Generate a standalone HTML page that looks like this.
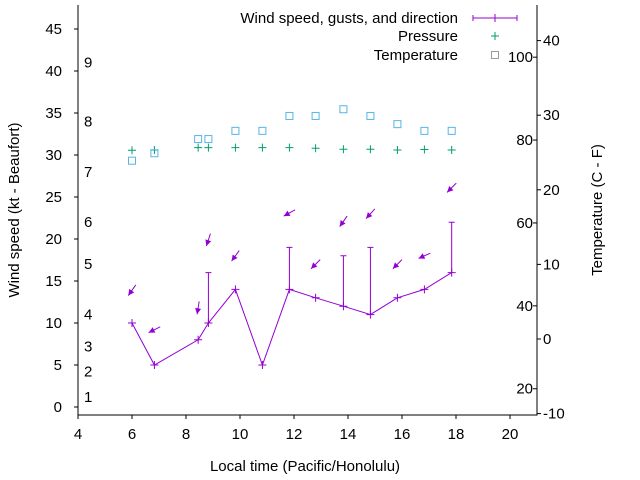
<!DOCTYPE html>
<html><head><meta charset="utf-8"><style>
html,body{margin:0;padding:0;background:#fff}
svg{display:block;font-family:"Liberation Sans",sans-serif}
</style></head><body>
<svg id="chart" width="640" height="480" viewBox="0 0 640 480"></svg>
<script>
// Data arrays
const times = [6.0, 6.83, 8.45, 8.83, 9.83, 10.83, 11.83, 12.8, 13.83, 14.83, 15.83, 16.83, 17.84];
const windSpeed = [10, 5, 8, 10, 14, 5, 14, 13, 12, 11, 13, 14, 16];
const gusts = [null, null, null, 16, null, null, 19, null, 18, 19, null, null, 22];
const arrowLevel = [13.9, 9.2, 11.8, 19.9, 18, 23.1, 17, 22.1, 23, 17, 18, 26.1];
const arrowTimes = [6.0, 6.83, 8.45, 8.83, 9.83, 11.83, 12.8, 13.83, 14.83, 15.83, 16.83, 17.84];
const windDir = [35, 63, 9, 18, 36, 61, 45, 35, 42, 45, 66, 45];
const pressure = [30.56, 30.6, 30.88, 30.88, 30.88, 30.88, 30.88, 30.8, 30.68, 30.68, 30.6, 30.65, 30.6];
const tempC = [23.9, 24.9, 26.8, 26.8, 27.9, 27.9, 29.9, 29.9, 30.8, 29.9, 28.8, 27.9, 27.9];
const xTicks = [4, 6, 8, 10, 12, 14, 16, 18, 20];
const yTicks = [0, 5, 10, 15, 20, 25, 30, 35, 40, 45];
const y2Ticks = [-10, 0, 10, 20, 30, 40];
const fahrLabels = [20, 40, 60, 80, 100];
const beaufortLabels = [1, 2, 3, 4, 5, 6, 7, 8, 9];
const beaufortLevel = [1.2, 4.2, 7.2, 11, 17, 22, 28, 34, 41];

const L = 78, R = 537, T = 5, B = 415;
const X = v => L + (v - 4) * (R - L) / 17;
const Y = v => 407 - v * 8.4;
const Y2 = c => 339 - c * 7.46;
const NS = "http://www.w3.org/2000/svg";
const svg = document.getElementById('chart');
function mk(tag, attrs, parent) {
  const e = document.createElementNS(NS, tag);
  for (const k in attrs) e.setAttribute(k, attrs[k]);
  (parent || svg).appendChild(e);
  return e;
}
const purple = '#9400d3', green = '#009e73', blue = '#56b4e9';

// axes
const axes = mk('g', {});


mk('path', {d: `M${L},${T}V${B}H${R}V${T}`, fill: 'none', stroke: '#000', 'stroke-width': 1}, axes);

xTicks.forEach(t => {
  const x = X(t);
  mk('line', {x1: x, x2: x, y1: B, y2: B + 4, stroke: '#000'}, axes);
  const tx = mk('text', {x: x, y: B + 24, 'text-anchor': 'middle', 'font-size': 15}, axes);
  tx.textContent = t;
  
  
});
yTicks.forEach(t => {
  const y = Y(t);
  mk('line', {x1: L, x2: L - 4, y1: y, y2: y, stroke: '#000'}, axes);
  const tx = mk('text', {x: 62, y: y + 5, 'text-anchor': 'end', 'font-size': 15}, axes);
  tx.textContent = t;
  
  
});
y2Ticks.forEach(t => {
  const y = Y2(t);
  mk('line', {x1: R, x2: R + 4, y1: y, y2: y, stroke: '#000'}, axes);
  const tx = mk('text', {x: 543, y: y + 5, 'font-size': 15}, axes);
  tx.textContent = t;
  
  
});
fahrLabels.forEach(f => {
  const y = Y2((f - 32) * 5 / 9);
  mk('line', {x1: R, x2: R - 4, y1: y, y2: y, stroke: '#000'}, axes);
  const tx = mk('text', {x: 533, y: y + 5, 'text-anchor': 'end', 'font-size': 15}, axes);
  tx.textContent = f;
  
  
});
beaufortLabels.forEach((b, i) => {
  const tx = mk('text', {x: 84, y: Y(beaufortLevel[i]) + 5, 'font-size': 15}, axes);
  tx.textContent = b;
  
  
});

// titles
let t1 = mk('text', {x: 305, y: 471, 'text-anchor': 'middle', 'font-size': 15});
t1.textContent = 'Local time (Pacific/Honolulu)';


let t2 = mk('text', {x: 0, y: 0, 'text-anchor': 'middle', 'font-size': 15, transform: 'translate(19,210) rotate(-90)'});
t2.textContent = 'Wind speed (kt - Beaufort)';


let t3 = mk('text', {x: 0, y: 0, 'text-anchor': 'middle', 'font-size': 15, transform: 'translate(602,210) rotate(-90)'});
t3.textContent = 'Temperature (C - F)';



// wind line
const wind = mk('g', {});


mk('polyline', {points: times.map((t, i) => X(t) + ',' + Y(windSpeed[i])).join(' '), fill: 'none', stroke: purple, 'stroke-width': 1}, wind);
times.forEach((t, i) => {
  const x = X(t), y = Y(windSpeed[i]);
  const p = mk('path', {d: `M${x - 4},${y}h8M${x},${y - 4}v8`, stroke: purple}, wind);
  
  
  if (gusts[i] != null) {
    const g = Y(gusts[i]);
    const gb = mk('path', {d: `M${x},${y}V${g}M${x - 3},${g}h6`, stroke: purple, fill: 'none'}, wind);
    
    
  }
});
// arrows
arrowTimes.forEach((t, i) => {
  const cx = X(t), cy = Y(arrowLevel[i]);
  const a = windDir[i] * Math.PI / 180, len = 13;
  const dx = -Math.sin(a), dy = Math.cos(a);
  const x0 = cx - dx * len / 2, y0 = cy - dy * len / 2, x1 = cx + dx * len / 2, y1 = cy + dy * len / 2;
  const px = -dy, py = dx;
  const hx = x1 - dx * 6, hy = y1 - dy * 6;
  const g = mk('g', {}, wind);
  
  
  mk('line', {x1: x0, y1: y0, x2: x1, y2: y1, stroke: purple}, g);
  mk('polygon', {points: `${x1},${y1} ${hx + px * 3},${hy + py * 3} ${hx - px * 3},${hy - py * 3}`, fill: purple}, g);
});

// pressure
const pr = mk('g', {});


times.forEach((t, i) => {
  const x = X(t), y = Y(pressure[i]);
  const p = mk('path', {d: `M${x - 4},${y}h8M${x},${y - 4}v8`, stroke: green}, pr);
  
  
});
// temperature
const tp = mk('g', {});


times.forEach((t, i) => {
  const x = X(t), y = Y2(tempC[i]);
  const r = mk('rect', {x: x - 3.5, y: y - 3.5, width: 7, height: 7, fill: 'none', stroke: blue}, tp);
  
  
});

// legend
const lg = mk('g', {});


const le = [['Wind speed, gusts, and direction', 23], ['Pressure', 41], ['Temperature', 60]];
le.forEach((e, i) => {
  const tx = mk('text', {x: 458, y: e[1], 'text-anchor': 'end', 'font-size': 15}, lg);
  tx.textContent = e[0];
  
  
});
mk('path', {d: 'M473,18H517M473,15v6M517,15v6M491,18h8M495,14v8', stroke: purple, fill: 'none'}, lg);
mk('path', {d: 'M491,36h8M495,32v8', stroke: green}, lg);
mk('rect', {x: 491.5, y: 51.5, width: 7, height: 7, fill: 'none', stroke: '#999'}, lg);
</script>
</body></html>
